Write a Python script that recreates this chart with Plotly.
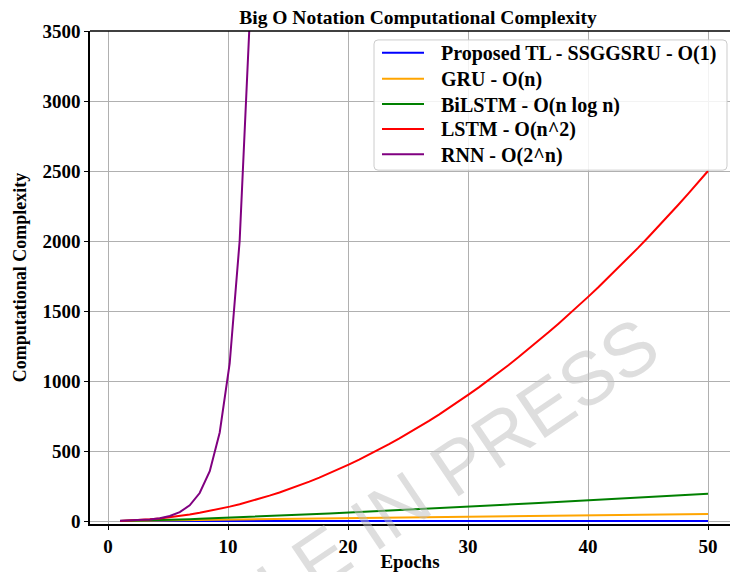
import plotly.graph_objects as go

# Epochs (60 evenly spaced samples between 1 and 50)
epochs = [1.00, 1.83, 2.66, 3.49, 4.32, 5.15, 5.98, 6.81, 7.64, 8.48,
          9.31, 10.14, 10.97, 11.80, 12.63, 13.46, 14.29, 15.12, 15.95, 16.78,
          17.61, 18.44, 19.27, 20.10, 20.93, 21.76, 22.59, 23.42, 24.25, 25.08,
          25.92, 26.75, 27.58, 28.41, 29.24, 30.07, 30.90, 31.73, 32.56, 33.39,
          34.22, 35.05, 35.88, 36.71, 37.54, 38.37, 39.20, 40.03, 40.86, 41.69,
          42.53, 43.36, 44.19, 45.02, 45.85, 46.68, 47.51, 48.34, 49.17, 50.00]

proposed = [1] * 60

gru = [1.00, 1.83, 2.66, 3.49, 4.32, 5.15, 5.98, 6.81, 7.64, 8.48,
       9.31, 10.14, 10.97, 11.80, 12.63, 13.46, 14.29, 15.12, 15.95, 16.78,
       17.61, 18.44, 19.27, 20.10, 20.93, 21.76, 22.59, 23.42, 24.25, 25.08,
       25.92, 26.75, 27.58, 28.41, 29.24, 30.07, 30.90, 31.73, 32.56, 33.39,
       34.22, 35.05, 35.88, 36.71, 37.54, 38.37, 39.20, 40.03, 40.86, 41.69,
       42.53, 43.36, 44.19, 45.02, 45.85, 46.68, 47.51, 48.34, 49.17, 50.00]

bilstm = [0.0, 1.11, 2.60, 4.37, 6.33, 8.45, 10.70, 13.08, 15.55, 18.11,
          20.76, 23.48, 26.26, 29.11, 32.02, 34.99, 38.00, 41.06, 44.17, 47.32,
          50.51, 53.75, 57.02, 60.32, 63.66, 67.03, 70.44, 73.87, 77.34, 80.83,
          84.35, 87.90, 91.47, 95.07, 98.69, 102.34, 106.00, 109.70, 113.41, 117.14,
          120.89, 124.67, 128.46, 132.28, 136.11, 139.96, 143.82, 147.71, 151.61, 155.54,
          159.47, 163.43, 167.39, 171.38, 175.38, 179.40, 183.42, 187.47, 191.53, 195.60]

lstm = [1.0, 3.35, 7.08, 12.19, 18.68, 26.55, 35.80, 46.43, 58.43, 71.83,
        86.58, 102.7, 120.3, 139.2, 159.4, 181.1, 204.1, 228.6, 254.4, 281.6,
        310.1, 340.1, 371.4, 404.1, 438.1, 473.6, 510.4, 548.7, 588.3, 629.3,
        671.6, 715.3, 760.4, 807.0, 854.8, 904.1, 954.7, 1006.7, 1060.1, 1114.9,
        1171.0, 1228.6, 1287.5, 1347.8, 1409.4, 1472.5, 1536.9, 1602.7, 1669.9, 1738.5,
        1808.4, 1879.7, 1952.4, 2026.5, 2102.0, 2178.8, 2257.0, 2336.7, 2417.6, 2500.0]

rnn = [2.0, 3.56, 6.33, 11.25, 20.0, 35.6, 63.3, 112.5, 200.0, 355.8,
       632.5, 1125.0, 2000.0, 3558.0, 6326.0]

series_names = ["Proposed TL - SSGGSRU - O(1)", "GRU - O(n)", "BiLSTM - O(n log n)",
                "LSTM - O(n^2)", "RNN - O(2^n)"]
series_values = [proposed, gru, bilstm, lstm, rnn]
series_colors = ["#0000ff", "#ffa500", "#008000", "#ff0000", "#800080"]

x_ticks = [0, 10, 20, 30, 40, 50]
y_ticks = [0, 500, 1000, 1500, 2000, 2500, 3000, 3500]

SERIF = "Liberation Serif, Times New Roman, serif"

W, H = 730, 572
L, T, B = 90, 31, 45
plot_w = W - L
plot_h = H - T - B


def px(xp):
    return (xp - L) / plot_w


def py(yp):
    return 1 - (yp - T) / plot_h


fig = go.Figure()
for name, vals, col in zip(series_names, series_values, series_colors):
    fig.add_trace(go.Scatter(x=epochs[:len(vals)], y=vals, mode="lines", name=name,
                             showlegend=False, line=dict(color=col, width=2)))

fig.update_layout(
    width=W, height=H,
    margin=dict(l=L, r=0, t=T, b=B),
    paper_bgcolor="white", plot_bgcolor="white",
    font=dict(family=SERIF, color="black"),
    showlegend=False,
    xaxis=dict(
        range=[-1.5, (W - 108) / 12.0],
        tickvals=x_ticks, ticktext=[str(v) for v in x_ticks],
        showgrid=True, gridcolor="#b0b0b0", gridwidth=1,
        showline=True, linecolor="black", linewidth=1.5, mirror=False,
        ticks="outside", ticklen=4, tickcolor="black",
        tickfont=dict(family=SERIF, size=19, weight="bold"),
        zeroline=False,
        title=dict(text="Epochs", font=dict(family=SERIF, size=19, weight="bold"), standoff=2),
    ),
    yaxis=dict(
        range=[-21.3, 3500],
        tickvals=y_ticks, ticktext=[str(v) for v in y_ticks],
        showgrid=True, gridcolor="#b0b0b0", gridwidth=1,
        showline=True, linecolor="black", linewidth=1.5, mirror=False,
        ticks="outside", ticklen=4, tickcolor="black",
        tickfont=dict(family=SERIF, size=19, weight="bold"),
        zeroline=False,
        title=dict(text="Computational Complexity", font=dict(family=SERIF, size=18, weight="bold"), standoff=11),
    ),
    title=dict(text="Big O Notation Computational Complexity",
               x=418 / W, xref="container", xanchor="center",
               y=1 - 17 / H, yref="container", yanchor="middle",
               font=dict(family=SERIF, size=19.5, weight="bold", color="black")),
)

# top spine
fig.add_shape(type="line", xref="paper", yref="paper", x0=0, x1=1, y0=1, y1=1,
              line=dict(color="black", width=1.5), layer="above")

# legend box (rounded)
x0, x1, y0, y1, r = 374, 727, 40, 171, 4
path = (f"M {x0 + r},{y0} L {x1 - r},{y0} Q {x1},{y0} {x1},{y0 + r} "
        f"L {x1},{y1 - r} Q {x1},{y1} {x1 - r},{y1} L {x0 + r},{y1} "
        f"Q {x0},{y1} {x0},{y1 - r} L {x0},{y0 + r} Q {x0},{y0} {x0 + r},{y0} Z")


def conv_path(p):
    out = []
    for tkn in p.split(" "):
        if "," in tkn:
            a, b = tkn.split(",")
            out.append(f"{px(float(a)):.5f},{py(float(b)):.5f}")
        else:
            out.append(tkn)
    return " ".join(out)


fig.add_shape(type="path", xref="paper", yref="paper", path=conv_path(path),
              fillcolor="rgba(255,255,255,0.85)", line=dict(color="#cccccc", width=1),
              layer="above")

legend_rows = [53, 79, 104.5, 129.5, 155]
for name, col, yr in zip(series_names, series_colors, legend_rows):
    fig.add_shape(type="line", xref="paper", yref="paper",
                  x0=px(382), x1=px(424), y0=py(yr), y1=py(yr),
                  line=dict(color=col, width=2), layer="above")
    fig.add_annotation(text=name, xref="paper", yref="paper", x=px(439), y=py(yr + 1),
                       xanchor="left", yanchor="middle", showarrow=False,
                       font=dict(family=SERIF, size=20, weight="bold", color="black"))

# watermark (runs off the bottom edge, as in the reference)
fig.add_annotation(
    text="ARTICLE IN PRESS", xref="paper", yref="paper",
    x=px(365), y=py(531),
    xanchor="center", yanchor="middle", showarrow=False, textangle=-34,
    font=dict(family="Liberation Sans, Arial, sans-serif", size=75, color="rgba(190,190,190,0.5)"),
)

fig.write_html(
    "out.html",
    post_script="document.documentElement.style.overflow='hidden';document.body.style.overflow='hidden';",
)
